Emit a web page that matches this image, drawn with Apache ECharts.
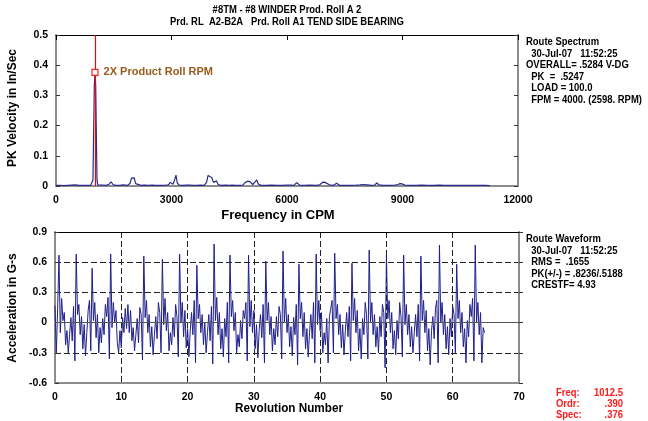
<!DOCTYPE html>
<html><head><meta charset="utf-8">
<script src="https://cdn.jsdelivr.net/npm/echarts@6/dist/echarts.min.js"></script>
<style>html,body{margin:0;padding:0;background:#fff}#c{width:648px;height:421px}</style>
</head><body><div id="c"></div>
<script>
// ---- data ----
var titleLines = ['#8TM - #8 WINDER Prod. Roll A 2', 'Prd. RL  A2-B2A   Prd. Roll A1 TEND SIDE BEARING'];
var specTicks = [0, 3000, 6000, 9000, 12000];
var velTicks = [0, 0.1, 0.2, 0.3, 0.4, 0.5];
var revTicks = [0, 10, 20, 30, 40, 50, 60, 70];
var accTicks = [-0.6, -0.3, 0, 0.3, 0.6, 0.9];

var specFreq = [0,100,200,300,400,500,550,600,650,700,800,850,900,940,960,995,1012.5,1030,1065,1085,1120,1200,1300,1380,1430,1480,1550,1650,1750,1850,1920,1960,1995,2030,2070,2120,2200,2300,2400,2450,2500,2560,2650,2750,2850,2920,2970,3005,3040,3080,3117,3150,3200,3300,3380,3430,3480,3560,3650,3750,3850,3910,3950,3990,4044,4090,4130,4170,4210,4280,4400,4500,4580,4650,4750,4850,4920,4953,4990,5050,5110,5160,5213,5260,5330,5450,5600,5750,5900,5980,6030,6090,6180,6252,6330,6450,6600,6750,6850,6935,6990,7040,7100,7200,7290,7370,7500,7650,7800,7900,7980,8080,8200,8280,8330,8390,8500,8650,8800,8880,8935,8990,9060,9200,9350,9500,9650,9800,9950,10100,10250,10400,10550,10700,10850,11000,11150,11270];
var specAmp = [0.002,0.002,0.001,0.002,0.003,0.004,0.002,0.002,0.001,0.002,0.002,0.001,0.002,0.004,0.02,0.33,0.376,0.33,0.02,0.004,0.002,0.003,0.002,0.006,0.014,0.005,0.002,0.002,0.004,0.002,0.008,0.026,0.031,0.027,0.008,0.002,0.002,0.003,0.002,0.004,0.003,0.002,0.002,0.002,0.003,0.004,0.012,0.014,0.006,0.02,0.036,0.01,0.003,0.002,0.003,0.004,0.003,0.002,0.002,0.003,0.002,0.012,0.035,0.033,0.028,0.012,0.008,0.017,0.005,0.002,0.003,0.002,0.003,0.002,0.002,0.003,0.012,0.017,0.016,0.013,0.005,0.012,0.02,0.006,0.002,0.002,0.003,0.002,0.002,0.003,0.005,0.003,0.002,0.011,0.003,0.002,0.003,0.002,0.004,0.013,0.012,0.01,0.004,0.002,0.009,0.002,0.002,0.002,0.003,0.004,0.005,0.004,0.002,0.003,0.01,0.004,0.002,0.002,0.003,0.005,0.008,0.007,0.003,0.002,0.002,0.003,0.002,0.002,0.003,0.002,0.002,0.002,0.002,0.002,0.002,0.002,0.002,0.001];

var waveStep = 0.2; // revolutions between samples
var waveAccel = [
0.17,-0.30,0.14,0.67,-0.10,0.24,0.02,0.10,-0.22,-0.08,-0.30,-0.12,0.05,-0.18,0.16,-0.38,
0.68,0.08,0.18,-0.12,0.06,-0.26,-0.02,-0.33,-0.10,0.12,0.22,-0.28,
0.54,0.02,0.20,-0.15,0.08,-0.30,-0.05,-0.20,0.04,-0.12,0.18,0.06,0.25,-0.36,
0.68,-0.05,0.20,0.00,0.12,-0.20,-0.30,-0.08,-0.25,0.05,-0.10,0.14,-0.06,
0.18,-0.10,0.12,-0.18,-0.05,-0.28,-0.12,0.04,-0.20,0.15,0.08,-0.37,
0.66,0.05,0.22,-0.10,0.08,-0.24,-0.04,-0.32,-0.12,0.06,-0.16,0.20,0.10,-0.30,
0.63,-0.02,0.24,-0.08,0.10,-0.28,-0.10,-0.22,0.05,-0.14,0.18,0.06,-0.34,
0.68,0.00,0.20,-0.14,0.12,-0.25,-0.06,-0.34,-0.08,0.10,-0.12,0.22,-0.40,
0.57,0.04,0.18,-0.10,0.08,-0.22,0.00,-0.30,-0.10,0.08,-0.18,0.16,-0.41,
0.78,0.02,0.25,-0.12,0.10,-0.26,-0.06,-0.34,0.04,-0.14,0.20,-0.40,
0.67,0.06,0.22,-0.08,0.10,-0.30,-0.12,-0.24,0.02,-0.16,0.12,0.04,0.20,-0.38,
0.67,-0.04,0.22,-0.10,0.12,-0.26,-0.02,-0.35,-0.08,0.08,-0.15,0.18,-0.40,
0.61,0.02,0.20,-0.12,0.06,-0.28,-0.06,-0.22,0.06,-0.14,0.16,0.08,-0.36,
0.71,0.00,0.24,-0.10,0.08,-0.24,-0.04,-0.33,0.05,-0.12,0.18,-0.42,
0.58,0.04,0.20,-0.14,0.10,-0.26,-0.06,-0.34,-0.10,0.08,-0.16,0.20,-0.40,
0.68,-0.02,0.22,-0.08,0.10,-0.30,-0.10,-0.22,0.04,-0.40,0.06,0.14,0.22,-0.30,
0.69,0.04,0.18,-0.12,0.08,-0.25,-0.02,-0.32,-0.08,0.10,-0.14,0.16,-0.38,
0.59,0.02,0.24,-0.10,0.12,-0.28,-0.06,-0.36,0.04,-0.12,0.20,0.08,-0.36,
0.72,0.00,0.20,-0.12,0.08,-0.24,-0.04,-0.30,0.06,-0.14,0.18,0.10,-0.45,
0.67,0.04,0.22,-0.10,0.10,-0.26,-0.08,-0.32,0.02,-0.16,0.20,0.06,-0.34,
0.67,-0.02,0.18,-0.12,0.08,-0.24,-0.04,-0.30,-0.10,0.08,-0.14,0.18,-0.38,
0.66,0.02,0.22,-0.10,0.12,-0.28,-0.06,-0.42,-0.08,0.06,-0.16,0.14,0.22,-0.40,
0.77,0.00,0.20,-0.12,0.08,-0.26,-0.04,-0.32,0.04,-0.14,0.16,0.08,-0.30,
0.58,0.04,0.22,-0.10,0.10,-0.24,-0.06,-0.40,0.02,-0.14,0.18,0.06,0.24,-0.38,
0.77,0.00,0.20,-0.12,0.10,-0.40,-0.05,-0.10];

var specInfo = ['Route Spectrum', '  30-Jul-07   11:52:25', 'OVERALL= .5284 V-DG', '  PK  =  .5247', '  LOAD = 100.0', '  FPM = 4000. (2598. RPM)'];
var waveInfo = ['Route Waveform', '  30-Jul-07   11:52:25', '  RMS =  .1655', '  PK(+/-) = .8236/.5188', '  CRESTF= 4.93'];
var cursorLabels = ['Freq:', 'Ordr:', 'Spec:'];
var cursorValues = ['1012.5', '.390', '.376'];
var cursorFreq = 1012.5, cursorAmp = 0.376;
var markerLabel = '2X Product Roll RPM';

// ---- chart ----
var FF = '"Liberation Sans",Arial,sans-serif';
var BF = 'bold 11px ' + FF;
var SX = 0.86;
var chart = echarts.init(document.getElementById('c'));
var specData = specFreq.map(function (f, i) { return [f, specAmp[i]]; });
var waveData = waveAccel.map(function (v, i) { return [+(i * waveStep).toFixed(2), v]; });

var lbl = { color: '#000', fontWeight: 'bold', fontSize: 10.5, fontFamily: FF };
var greyLine = { show: true, onZero: false, lineStyle: { color: '#8c8c8c', width: 2 } };
var blackLine = { show: true, onZero: false, lineStyle: { color: '#000', width: 1 } };
var dash = { show: true, lineStyle: { color: '#222', type: [6, 3], width: 1 } };
function fmt1(v) { return v === 0 ? '0' : (Math.round(v * 10) / 10).toString(); }
function fmtInt(v) { return String(Math.round(v)); }

function txt(x, y, t, font, fill, align, sx) {
  return { type: 'text', x: x, y: y, scaleX: sx, style: { text: t, font: font, fill: fill, textAlign: align, textVerticalAlign: 'middle' } };
}
var g = [];
titleLines.forEach(function (t, i) { g.push(txt(287, 10 + i * 12, t, BF, '#000', 'center', SX)); });
specInfo.forEach(function (t, i) { g.push(txt(526, 42 + i * 11.6, t, BF, '#000', 'left', SX)); });
waveInfo.forEach(function (t, i) { g.push(txt(526, 239 + i * 11.6, t, BF, '#000', 'left', SX)); });
cursorLabels.forEach(function (t, i) {
  g.push(txt(556, 393 + i * 11, t, BF, '#ff1a1a', 'left', SX));
  g.push(txt(623, 393 + i * 11, cursorValues[i], BF, '#ff1a1a', 'right', SX));
});
g.push({ type: 'text', x: 13, y: 108, rotation: Math.PI / 2, style: { text: 'PK Velocity in In/Sec', font: 'bold 12px ' + FF, fill: '#000', textAlign: 'center', textVerticalAlign: 'middle' } });
g.push({ type: 'text', x: 13, y: 308, rotation: Math.PI / 2, style: { text: 'Acceleration in G-s', font: 'bold 12px ' + FF, fill: '#000', textAlign: 'center', textVerticalAlign: 'middle' } });
g.push(txt(278, 215, 'Frequency in CPM', 'bold 13px ' + FF, '#000', 'center', 1));
g.push(txt(289, 408, 'Revolution Number', 'bold 13px ' + FF, '#000', 'center', 0.9));

chart.setOption({
  animation: false,
  backgroundColor: '#fff',
  grid: [
    { left: 56, top: 35, width: 462, height: 151 },
    { left: 55, top: 232, width: 464, height: 151 }
  ],
  xAxis: [
    { type: 'value', gridIndex: 0, min: specTicks[0], max: specTicks[specTicks.length - 1], interval: 3000, position: 'bottom', axisLine: greyLine, axisTick: { show: false }, splitLine: { show: false }, axisLabel: Object.assign({ margin: 9, formatter: fmtInt }, lbl) },
    { type: 'value', gridIndex: 0, min: specTicks[0], max: specTicks[specTicks.length - 1], interval: 3000, position: 'top', axisLine: blackLine, axisTick: { show: true, inside: true, length: 5, lineStyle: { color: '#000' } }, splitLine: { show: false }, axisLabel: { show: false } },
    { type: 'value', gridIndex: 1, min: revTicks[0], max: revTicks[revTicks.length - 1], interval: 10, position: 'bottom', axisLine: greyLine, axisTick: { show: false }, splitLine: dash, axisLabel: Object.assign({ margin: 9, formatter: fmtInt }, lbl) },
    { type: 'value', gridIndex: 1, min: revTicks[0], max: revTicks[revTicks.length - 1], interval: 10, position: 'top', axisLine: blackLine, axisTick: { show: false }, splitLine: { show: false }, axisLabel: { show: false } }
  ],
  yAxis: [
    { type: 'value', gridIndex: 0, min: velTicks[0], max: velTicks[velTicks.length - 1], interval: 0.1, position: 'left', axisLine: greyLine, axisTick: { show: true, inside: true, length: 4, lineStyle: { color: '#333' } }, splitLine: { show: false }, axisLabel: Object.assign({ formatter: fmt1, margin: 8 }, lbl) },
    { type: 'value', gridIndex: 0, min: velTicks[0], max: velTicks[velTicks.length - 1], interval: 0.1, position: 'right', axisLine: greyLine, axisTick: { show: true, inside: true, length: 4, lineStyle: { color: '#333' } }, splitLine: { show: false }, axisLabel: { show: false } },
    { type: 'value', gridIndex: 1, min: accTicks[0], max: accTicks[accTicks.length - 1], interval: 0.3, position: 'left', axisLine: greyLine, axisTick: { show: true, inside: true, length: 4, lineStyle: { color: '#333' } }, splitLine: dash, axisLabel: Object.assign({ formatter: fmt1, margin: 8 }, lbl) },
    { type: 'value', gridIndex: 1, min: accTicks[0], max: accTicks[accTicks.length - 1], interval: 0.3, position: 'right', axisLine: greyLine, axisTick: { show: true, inside: false, length: 4, lineStyle: { color: '#333' } }, splitLine: { show: false }, axisLabel: { show: false } }
  ],
  series: [
    {
      type: 'line', xAxisIndex: 0, yAxisIndex: 0, data: [], symbol: 'none', z: 1,
      markLine: {
        silent: true, symbol: 'none', animation: false,
        label: { show: false },
        data: [{ xAxis: cursorFreq, lineStyle: { color: '#ff0000', width: 1.2, type: 'solid', opacity: 1 } }]
      }
    },
    {
      type: 'line', xAxisIndex: 0, yAxisIndex: 0, data: specData, symbol: 'none', z: 3,
      lineStyle: { color: '#2a2a8e', width: 1.2 },
      markPoint: {
        silent: true, symbol: 'rect', symbolSize: 6, z: 5,
        itemStyle: { color: '#fff', borderColor: '#ff2020', borderWidth: 1.2 },
        label: { show: true, position: 'right', distance: 5, formatter: markerLabel, color: '#9a5a1c', fontWeight: 'bold', fontSize: 11, fontFamily: FF },
        data: [{ coord: [cursorFreq, cursorAmp] }]
      }
    },
    {
      type: 'line', xAxisIndex: 2, yAxisIndex: 2, data: waveData, symbol: 'none',
      lineStyle: { color: '#1f1f8c', width: 1 },
      markLine: {
        silent: true, symbol: 'none', animation: false, label: { show: false },
        lineStyle: { color: '#555', width: 1, type: 'solid' },
        data: [{ yAxis: 0 }]
      }
    }
  ],
  graphic: g
});
</script>
</body></html>
